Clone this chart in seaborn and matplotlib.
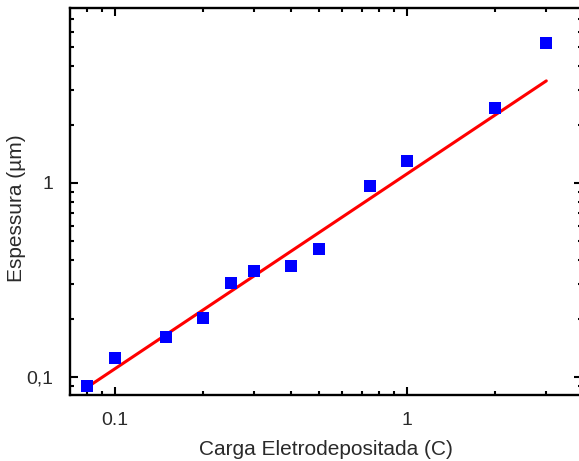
import matplotlib
matplotlib.use("Agg")
import matplotlib.pyplot as plt
from matplotlib.ticker import FixedLocator, FixedFormatter, LogLocator, NullFormatter
import numpy as np
import pandas as pd
import seaborn as sns

# Charge deposited (C) and measured film thickness (µm)
carga = [0.08, 0.10, 0.15, 0.20, 0.25, 0.30, 0.40, 0.50, 0.75, 1.0, 2.0, 3.0]
espessura = [0.090, 0.125, 0.161, 0.201, 0.305, 0.352, 0.373, 0.457, 0.97, 1.30, 2.43, 5.27]

# Power-law fit line end points
ajuste_x = [0.08, 3.0]
ajuste_y = [0.088, 3.36]

x_ticks = [0.1, 1]
x_labels = ["0.1", "1"]
y_ticks = [0.1, 1]
y_labels = ["0,1", "1"]

sns.set_theme(style="ticks")
plt.rcParams["font.family"] = ["Liberation Sans", "DejaVu Sans"]

df = pd.DataFrame({"carga": carga, "espessura": espessura})
df_fit = pd.DataFrame({"carga": ajuste_x, "espessura": ajuste_y})

fig = plt.figure(figsize=(5.79, 4.61), dpi=100)
ax = fig.add_axes([0.1209, 0.1432, 0.884, 0.8394])

sns.lineplot(data=df_fit, x="carga", y="espessura", ax=ax, color="#ff0000",
             linewidth=2.2, zorder=2)
sns.scatterplot(data=df, x="carga", y="espessura", ax=ax, marker="s", s=68,
                color="#0000ff", linewidth=0, zorder=3)

ax.set_xscale("log")
ax.set_yscale("log")
ax.set_xlim(0.0702, 3.97)
ax.set_ylim(0.0807, 7.98)

ax.xaxis.set_major_locator(FixedLocator(x_ticks))
ax.xaxis.set_major_formatter(FixedFormatter(x_labels))
ax.yaxis.set_major_locator(FixedLocator(y_ticks))
ax.yaxis.set_major_formatter(FixedFormatter(y_labels))
ax.xaxis.set_minor_locator(LogLocator(base=10, subs=np.arange(2, 10)))
ax.yaxis.set_minor_locator(LogLocator(base=10, subs=np.arange(2, 10)))
ax.xaxis.set_minor_formatter(NullFormatter())
ax.yaxis.set_minor_formatter(NullFormatter())

for side in ["left", "right", "top", "bottom"]:
    ax.spines[side].set_visible(True)
    ax.spines[side].set_linewidth(1.7)
    ax.spines[side].set_color("black")

ax.tick_params(which="both", direction="in", top=True, right=True,
               width=1.5, color="black")
ax.tick_params(which="major", length=6, labelsize=14, pad=12, labelcolor="#2a2a2a")
ax.tick_params(which="minor", length=3)

ax.set_xlabel("Carga Eletrodepositada (C)", fontsize=15, color="#2a2a2a", labelpad=8)
ax.set_ylabel("Espessura (µm)", fontsize=15, color="#2a2a2a")
ax.yaxis.set_label_coords(-0.085, 0.483)
ax.grid(False)

fig.savefig("out.png", dpi=100, facecolor="white")
